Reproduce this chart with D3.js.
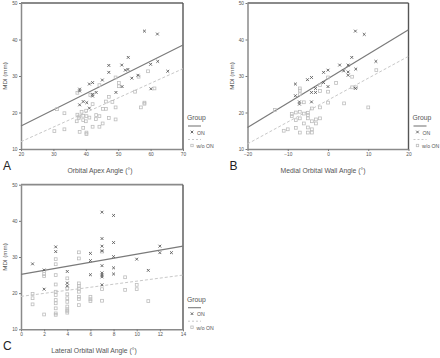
<!DOCTYPE html>
<html><head><meta charset="utf-8">
<script src="https://cdn.jsdelivr.net/npm/d3@7"></script>
<style>html,body{margin:0;padding:0;background:#fff;}svg{display:block;font-family:"Liberation Sans",Arial,sans-serif;}</style>
</head><body><svg id="c" width="440" height="358"></svg>
<script>
// ---- Data ----
const yTicks = [10, 20, 30, 40, 50];
const apexTicks = [20, 30, 40, 50, 60, 70];
const medialTicks = [-20, -10, 0, 10, 20];
const lateralTicks = [0, 2, 4, 6, 8, 10, 12, 14];
const groupNames = ["ON", "w/o ON"];

const apexOn = [[58.1,42.3],[62.1,41.5],[53.1,35.1],[47.1,32.9],[51.1,33.0],[47.1,31.0],[52.2,31.6],[53.0,31.8],[62.2,34.0],[60.0,33.2],[65.3,31.3],[56.1,30.2],[54.2,29.4],[51.2,27.1],[45.1,28.9],[49.3,25.5],[60.1,26.5],[41.1,27.8],[42.1,28.2],[38.1,26.4],[38.1,25.9],[43.2,25.5],[42.1,25.0],[42.1,24.5],[39.2,23.0],[40.3,22.7],[38.1,22.1],[41.1,21.2]];
const apexWo = [[31.1,20.9],[33.4,19.8],[30.3,14.9],[33.4,15.4],[37.4,25.4],[37.4,19.4],[37.8,18.5],[37.2,17.6],[38.0,18.9],[38.7,20.2],[39.2,19.1],[39.2,17.9],[40.2,19.0],[40.0,17.6],[38.1,14.7],[40.2,14.5],[40.2,14.1],[39.2,15.8],[42.1,16.1],[44.2,16.1],[43.1,18.2],[44.2,19.0],[45.2,17.0],[46.2,21.0],[47.1,18.5],[49.2,18.1],[49.2,21.4],[47.1,24.3],[48.2,22.9],[44.2,27.5],[49.2,29.6],[50.2,28.1],[50.2,27.2],[55.2,25.7],[56.3,29.8],[59.2,31.3],[61.2,26.6],[57.0,21.4],[58.1,22.7],[58.1,22.4],[42.1,22.3],[41.4,24.8],[40.1,20.5],[45.3,21.0],[46.2,23.0],[43.2,19.3],[41.1,18.6]];
const apexFitOn = [16.3, 38.5];   // y at x-domain min / max
const apexFitWo = [12.0, 32.0];

const medialOn = [[6.8,42.3],[9.0,41.4],[11.9,34.0],[5.9,35.1],[2.9,33.0],[3.9,31.4],[5.0,31.1],[5.0,30.2],[5.0,33.0],[6.9,31.9],[6.8,26.6],[0.0,31.6],[-1.1,31.0],[-1.1,28.2],[0.0,27.1],[-4.1,29.6],[-5.1,29.0],[-8.1,27.8],[-8.1,24.6],[-3.1,26.6],[-3.1,25.5],[-4.1,25.5],[-4.1,22.9],[-7.1,22.9],[-7.1,22.3]];
const medialWo = [[-13.2,20.7],[-11,15.0],[-10,15.4],[-9,19.6],[-9,19.0],[-8,17.9],[-8,15.8],[-7,26.6],[-7,26.0],[-7,25.0],[-7,20.2],[-7,18.4],[-7,14.5],[-6,19.7],[-6,17.0],[-5,19.9],[-5,19.3],[-5,18.4],[-5,15.9],[-5,14.5],[-4,21.1],[-4,17.6],[-4,15.4],[-4,14.5],[-3,18.1],[-3,17.0],[-2,27.5],[-2,25.9],[-2,21.4],[-2,18.4],[0,25.7],[0,22.7],[0,29.6],[2,28.1],[4,22.5],[6,26.9],[6,29.8],[7,26.9],[10,21.4],[12,31.6],[-6,22.8],[-8,20.0]];
const medialFitOn = [15.9, 42.7];
const medialFitWo = [11.4, 35.4];

const lateralOn = [[7,42.4],[8,41.5],[7,35.1],[8,34.0],[7,33.0],[7,31.7],[6,31.0],[6,29.0],[6,25.1],[7,27.6],[7,25.6],[7,25.0],[7,24.5],[7,22.3],[8,30.1],[8,27.0],[8,25.3],[3,32.8],[3,31.5],[2,26.4],[2,21.1],[1,28.1],[4,26.0],[4,22.8],[4,22.0],[10,29.4],[11,26.3],[12,33.0],[12,31.2],[13,31.2]];
const lateralWo = [[1,19.8],[1,18.6],[1,16.9],[2,25.3],[2,24.7],[2,14.1],[3,29.4],[3,28.0],[3,25.0],[3,22.4],[3,20.4],[3,19.5],[3,18.1],[3,17.2],[3,15.8],[3,14.4],[3,14.0],[4,24.1],[4,21.3],[4,19.7],[4,18.6],[4,17.6],[4,16.3],[4,15.5],[4,15.1],[4,14.6],[5,31.3],[5,29.6],[5,22.7],[5,22.0],[5,21.3],[5,20.4],[5,19.0],[5,18.4],[5,16.7],[6,19.0],[6,18.3],[6,17.8],[7,31.5],[7,21.1],[7,17.9],[9,24.4],[9,20.9],[10,22.3],[10,21.1],[11,17.8]];
const lateralFitOn = [25.2, 33.0];
const lateralFitWo = [19.1, 25.0];

const panels = [
  {letter:"A", title:"Orbital Apex Angle (\u00B0)", ticks:apexTicks, on:apexOn, wo:apexWo, fitOn:apexFitOn, fitWo:apexFitWo, box:[21,3,183,149], titleDx:-2},
  {letter:"B", title:"Medial Orbital Wall Angle (\u00B0)", ticks:medialTicks, on:medialOn, wo:medialWo, fitOn:medialFitOn, fitWo:medialFitWo, box:[247.5,3,408.5,149], titleDx:-5},
  {letter:"C", title:"Lateral Orbital Wall Angle (\u00B0)", ticks:lateralTicks, on:lateralOn, wo:lateralWo, fitOn:lateralFitOn, fitWo:lateralFitWo, box:[21,184.7,183,329.3], titleDx:-8}
];

const svg = d3.select("#c");
const onCol = "#5a5a5a", onLine = "#7a7a7a", woCol = "#bdbdbd", woLine = "#c8c8c8";

function drawX(g, x, y, s, col) {
  g.append("path").attr("d", `M${x-s},${y-s}L${x+s},${y+s}M${x-s},${y+s}L${x+s},${y-s}`)
   .attr("stroke", col).attr("stroke-width", 0.9).attr("fill","none");
}
function drawSq(g, x, y, s, col) {
  g.append("rect").attr("x", x-s).attr("y", y-s).attr("width", 2*s).attr("height", 2*s)
   .attr("stroke", col).attr("stroke-width", 0.8).attr("fill","none");
}

panels.forEach(p => {
  const [x0,y0,x1,y1] = p.box;
  const xs = d3.scaleLinear().domain(d3.extent(p.ticks)).range([x0,x1]);
  const ys = d3.scaleLinear().domain(d3.extent(yTicks)).range([y1,y0]);
  const g = svg.append("g");

  // axes
  const ax = g.append("g").attr("transform",`translate(0,${y1})`)
    .call(d3.axisBottom(xs).tickValues(p.ticks).tickSize(2).tickSizeOuter(0));
  const ay = g.append("g").attr("transform",`translate(${x0},0)`)
    .call(d3.axisLeft(ys).tickValues(yTicks).tickSize(2).tickSizeOuter(0));
  [ax,ay].forEach(a=>{
    a.select(".domain").attr("stroke","#8a8a8a").attr("stroke-width",1.5);
    a.selectAll(".tick line").attr("stroke","#777");
    a.selectAll("text").attr("font-size",4.8).attr("fill","#555");
  });
  ax.selectAll("text").attr("dy","0.9em").attr("y",2.5);
  ay.selectAll("text").attr("x",-3.5);
  // top and right frame
  g.append("line").attr("x1",x0).attr("x2",x1).attr("y1",y0).attr("y2",y0).attr("stroke","#8a8a8a").attr("stroke-width",1.8);
  g.append("line").attr("x1",x1).attr("x2",x1).attr("y1",y0).attr("y2",y1).attr("stroke","#555").attr("stroke-width",1.4);

  // fit lines
  const dom = xs.domain();
  g.append("line").attr("x1",xs(dom[0])).attr("x2",xs(dom[1])).attr("y1",ys(p.fitWo[0])).attr("y2",ys(p.fitWo[1]))
    .attr("stroke",woLine).attr("stroke-width",1).attr("stroke-dasharray","3,2");
  g.append("line").attr("x1",xs(dom[0])).attr("x2",xs(dom[1])).attr("y1",ys(p.fitOn[0])).attr("y2",ys(p.fitOn[1]))
    .attr("stroke",onLine).attr("stroke-width",1.2);

  // points
  p.wo.forEach(d => drawSq(g, xs(d[0]), ys(d[1]), 1.4, woCol));
  p.on.forEach(d => drawX(g, xs(d[0]), ys(d[1]), 1.4, onCol));

  // titles
  g.append("text").attr("x",(x0+x1)/2+p.titleDx).attr("y",y1+24).attr("text-anchor","middle")
    .attr("font-size",6.8).attr("fill","#555").text(p.title);
  g.append("text").attr("transform",`translate(${x0-14},${(y0+y1)/2}) rotate(-90)`).attr("text-anchor","middle")
    .attr("font-size",6.2).attr("fill","#555").text("MDI (mm)");
  g.append("text").attr("x",x0-18).attr("y",y1+21).attr("font-size",12).attr("fill","#222").text(p.letter);

  // legend
  const lx = x1+4, ly = y0+115;
  g.append("text").attr("x",lx).attr("y",ly+2).attr("font-size",6.8).attr("fill","#555").text("Group");
  g.append("line").attr("x1",lx+1).attr("x2",lx+14).attr("y1",ly+8).attr("y2",ly+8).attr("stroke",onLine).attr("stroke-width",1.1);
  drawX(g, lx+5, ly+14, 1.3, onCol);
  g.append("text").attr("x",lx+10).attr("y",ly+16.5).attr("font-size",5.2).attr("fill","#555").text(groupNames[0]);
  g.append("line").attr("x1",lx+1).attr("x2",lx+14).attr("y1",ly+21.5).attr("y2",ly+21.5).attr("stroke",woLine).attr("stroke-width",1).attr("stroke-dasharray","2,2");
  drawSq(g, lx+5, ly+27.5, 1.2, woCol);
  g.append("text").attr("x",lx+9.5).attr("y",ly+30).attr("font-size",5.2).attr("fill","#555").text(groupNames[1]);
});
</script></body></html>
